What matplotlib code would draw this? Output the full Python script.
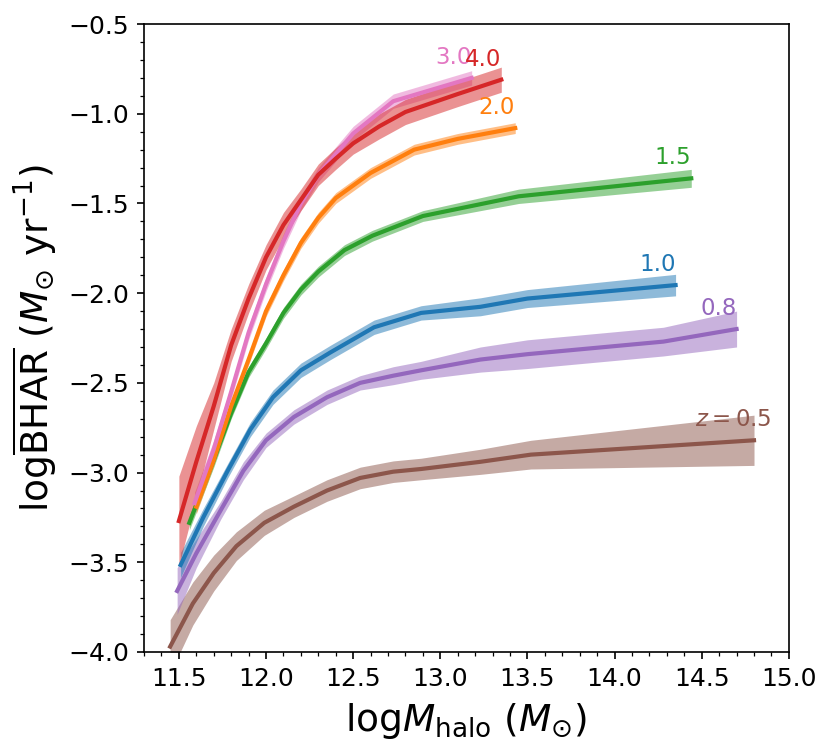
import matplotlib
matplotlib.use('Agg')
import matplotlib.pyplot as plt
import numpy as np

# redshift labels and colours
z_labels = [r'$z=0.5$', '0.8', '1.0', '1.5', '2.0', '3.0', '4.0']
colors = ['tab:brown', 'tab:purple', 'tab:blue', 'tab:green', 'tab:orange', 'tab:pink', 'tab:red']

# log M_halo bins, mean log BHAR and 1-sigma half widths
x_05 = [11.45, 11.58, 11.70, 11.83, 11.99, 12.16, 12.35, 12.54, 12.73, 12.89, 13.23, 13.52, 14.80]
y_05 = [-3.97, -3.73, -3.56, -3.41, -3.28, -3.19, -3.10, -3.03, -2.995, -2.98, -2.94, -2.90, -2.82]
e_05 = [0.15, 0.12, 0.10, 0.08, 0.07, 0.06, 0.06, 0.06, 0.06, 0.06, 0.07, 0.08, 0.14]

x_08 = [11.49, 11.60, 11.74, 11.87, 12.00, 12.16, 12.35, 12.54, 12.73, 12.89, 13.23, 13.50, 14.28, 14.70]
y_08 = [-3.66, -3.45, -3.21, -2.99, -2.82, -2.69, -2.58, -2.50, -2.46, -2.43, -2.37, -2.34, -2.27, -2.20]
e_08 = [0.13, 0.08, 0.05, 0.05, 0.04, 0.04, 0.04, 0.04, 0.05, 0.05, 0.07, 0.08, 0.08, 0.10]

x_10 = [11.51, 11.64, 11.78, 11.91, 12.04, 12.20, 12.37, 12.62, 12.89, 13.23, 13.50, 14.35]
y_10 = [-3.515, -3.25, -2.99, -2.76, -2.58, -2.43, -2.33, -2.19, -2.11, -2.076, -2.03, -1.955]
e_10 = [0.07, 0.05, 0.04, 0.04, 0.04, 0.04, 0.04, 0.04, 0.04, 0.05, 0.05, 0.06]

x_15 = [11.56, 11.70, 11.80, 11.90, 12.00, 12.10, 12.20, 12.30, 12.45, 12.61, 12.90, 13.45, 14.44]
y_15 = [-3.28, -2.93, -2.67, -2.44, -2.28, -2.11, -1.98, -1.88, -1.76, -1.68, -1.57, -1.46, -1.36]
e_15 = [0.04, 0.04, 0.03, 0.03, 0.03, 0.03, 0.03, 0.03, 0.03, 0.03, 0.03, 0.04, 0.05]

x_20 = [11.60, 11.70, 11.80, 11.90, 12.00, 12.10, 12.20, 12.30, 12.40, 12.60, 12.85, 13.10, 13.43]
y_20 = [-3.19, -2.93, -2.63, -2.37, -2.10, -1.90, -1.72, -1.58, -1.47, -1.33, -1.20, -1.14, -1.08]
e_20 = [0.04, 0.03, 0.03, 0.03, 0.03, 0.03, 0.03, 0.03, 0.03, 0.03, 0.03, 0.03, 0.03]

x_30 = [11.59, 11.70, 11.80, 11.90, 12.00, 12.10, 12.20, 12.30, 12.50, 12.73, 13.18]
y_30 = [-3.17, -2.87, -2.55, -2.22, -1.95, -1.71, -1.50, -1.34, -1.11, -0.93, -0.80]
e_30 = [0.06, 0.05, 0.04, 0.04, 0.04, 0.04, 0.04, 0.04, 0.04, 0.04, 0.04]

x_40 = [11.50, 11.60, 11.70, 11.80, 11.90, 12.00, 12.10, 12.20, 12.30, 12.40, 12.50, 12.65, 12.80, 13.10, 13.35]
y_40 = [-3.27, -2.94, -2.63, -2.29, -2.03, -1.80, -1.62, -1.48, -1.34, -1.25, -1.165, -1.07, -0.99, -0.89, -0.81]
e_40 = [0.25, 0.20, 0.13, 0.09, 0.08, 0.07, 0.07, 0.06, 0.06, 0.06, 0.06, 0.07, 0.07, 0.07, 0.07]

xs = [x_05, x_08, x_10, x_15, x_20, x_30, x_40]
ys = [y_05, y_08, y_10, y_15, y_20, y_30, y_40]
es = [e_05, e_08, e_10, e_15, e_20, e_30, e_40]

fig = plt.figure(figsize=(831 / 150, 752 / 150), dpi=150)
ax = fig.add_axes([0.1733, 0.133, 0.776, 0.835])

for i in range(len(xs)):
    x = np.array(xs[i])
    y = np.array(ys[i])
    e = np.array(es[i])
    ax.fill_between(x, y - e, y + e, color=colors[i], alpha=0.5, lw=0)
    ax.plot(x, y, color=colors[i], lw=2)
    dx = 0.1 if i == 0 else 0.0
    ax.text(x[-1] + dx, y[-1] + 0.05, z_labels[i], color=colors[i],
            fontsize=11, ha='right', va='bottom')

ax.set_xlim(11.3, 15.0)
ax.set_ylim(-4.0, -0.5)
ax.minorticks_on()
ax.tick_params(labelsize=12)
ax.set_xlabel(r'log$M_{\rm halo}$ ($M_{\odot}$)', fontsize=18, labelpad=5)
ax.set_ylabel(r'log$\overline{\rm BHAR}$ ($M_{\odot}$ yr$^{-1}$)', fontsize=18)
ax.yaxis.set_label_coords(-0.132, 0.5)

fig.savefig('out.png', dpi=150)
